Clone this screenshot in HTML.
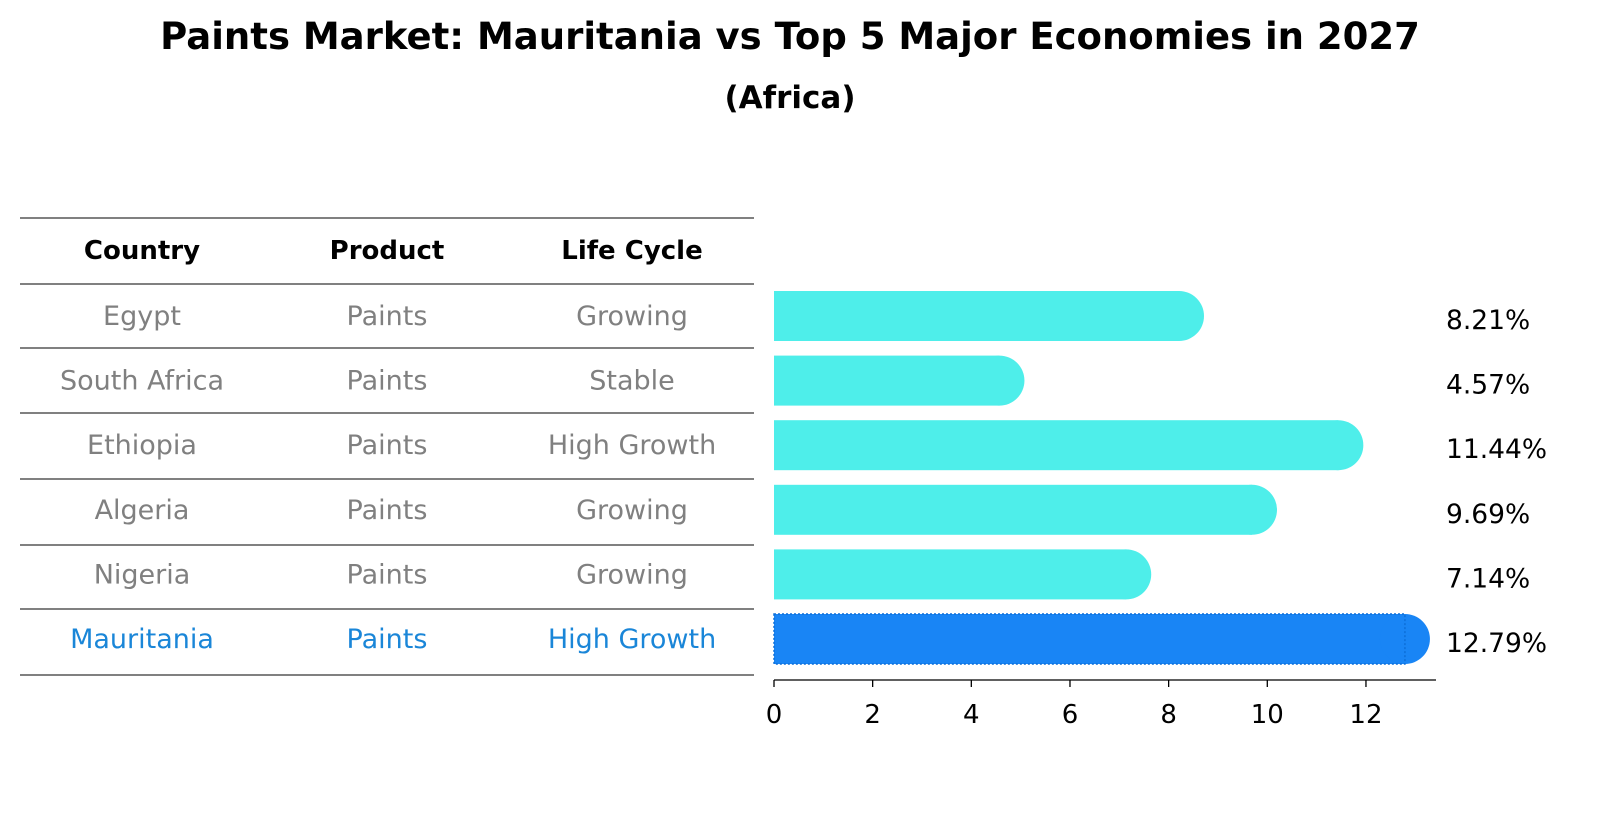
<!DOCTYPE html>
<html><head><meta charset="utf-8"><style>
body{margin:0;background:#fff;font-family:"Liberation Sans","DejaVu Sans",sans-serif;}
</style></head><body>
<svg width="1604" height="823" xmlns="http://www.w3.org/2000/svg" font-family="DejaVu Sans, Liberation Sans, sans-serif">
<text x="790" y="49" text-anchor="middle" font-size="37" font-weight="bold">Paints Market: Mauritania vs Top 5 Major Economies in 2027</text>
<text x="790" y="108" text-anchor="middle" font-size="31" font-weight="bold">(Africa)</text>
<g id="table"></g>
<g id="bars"></g>
</svg>
<script>
const countries=["Egypt","South Africa","Ethiopia","Algeria","Nigeria","Mauritania"];
const products=["Paints","Paints","Paints","Paints","Paints","Paints"];
const lifecycle=["Growing","Stable","High Growth","Growing","Growing","High Growth"];
const values=[8.21,4.57,11.44,9.69,7.14,12.79];
const xTicks=[0,2,4,6,8,10,12];
const NS="http://www.w3.org/2000/svg";
function mk(t,a,p){const e=document.createElementNS(NS,t);for(const k in a)e.setAttribute(k,a[k]);p.appendChild(e);return e;}
const X=v=>774+v*49.33;
const rowY=i=>316+i*64.6;
const tbl=document.getElementById('table');
const cols=[142,387,632];
const lines=[218,284,348,413,479,545,609,675];
lines.forEach(y=>{const l=mk('line',{x1:20,x2:754,y1:y,y2:y,stroke:'#000','stroke-width':1},tbl);

});
["Country","Product","Life Cycle"].forEach((h,j)=>{const t=mk('text',{x:cols[j],y:259,'text-anchor':'middle','font-size':26,'font-weight':'bold'},tbl);t.textContent=h;

});
countries.forEach((c,i)=>{const col=i===5?'#1a86d8':'#808080';
[c,products[i],lifecycle[i]].forEach((s,j)=>{const t=mk('text',{x:cols[j],y:rowY(i)+9,'text-anchor':'middle','font-size':27,fill:col},tbl);t.textContent=s;

});});
const g=document.getElementById('bars');
values.forEach((v,i)=>{const y=rowY(i);const col=i===5?'#1985F5':'#4EEEEA';
const r=mk('rect',{x:X(0),y:y-25,width:X(v)-X(0),height:50,fill:col},g);


const c=mk('circle',{cx:X(v),cy:y,r:25,fill:col},g);


if(i===5){const o=mk('rect',{x:X(0),y:y-25,width:X(v)-X(0),height:50,fill:'none',stroke:'#0d6fd8','stroke-dasharray':'2 2','stroke-width':1.5},g);

}
const t=mk('text',{x:1446,y:y+13,'font-size':26.5},g);t.textContent=v.toFixed(2)+'%';

});
const ax=mk('line',{x1:774,x2:1436,y1:680,y2:680,stroke:'#000','stroke-width':1.3},g);


xTicks.forEach(v=>{const l=mk('line',{x1:X(v),x2:X(v),y1:680,y2:687,stroke:'#000','stroke-width':1.3},g);


const t=mk('text',{x:X(v),y:723,'text-anchor':'middle','font-size':26},g);t.textContent=v;

});
</script>
</body></html>
